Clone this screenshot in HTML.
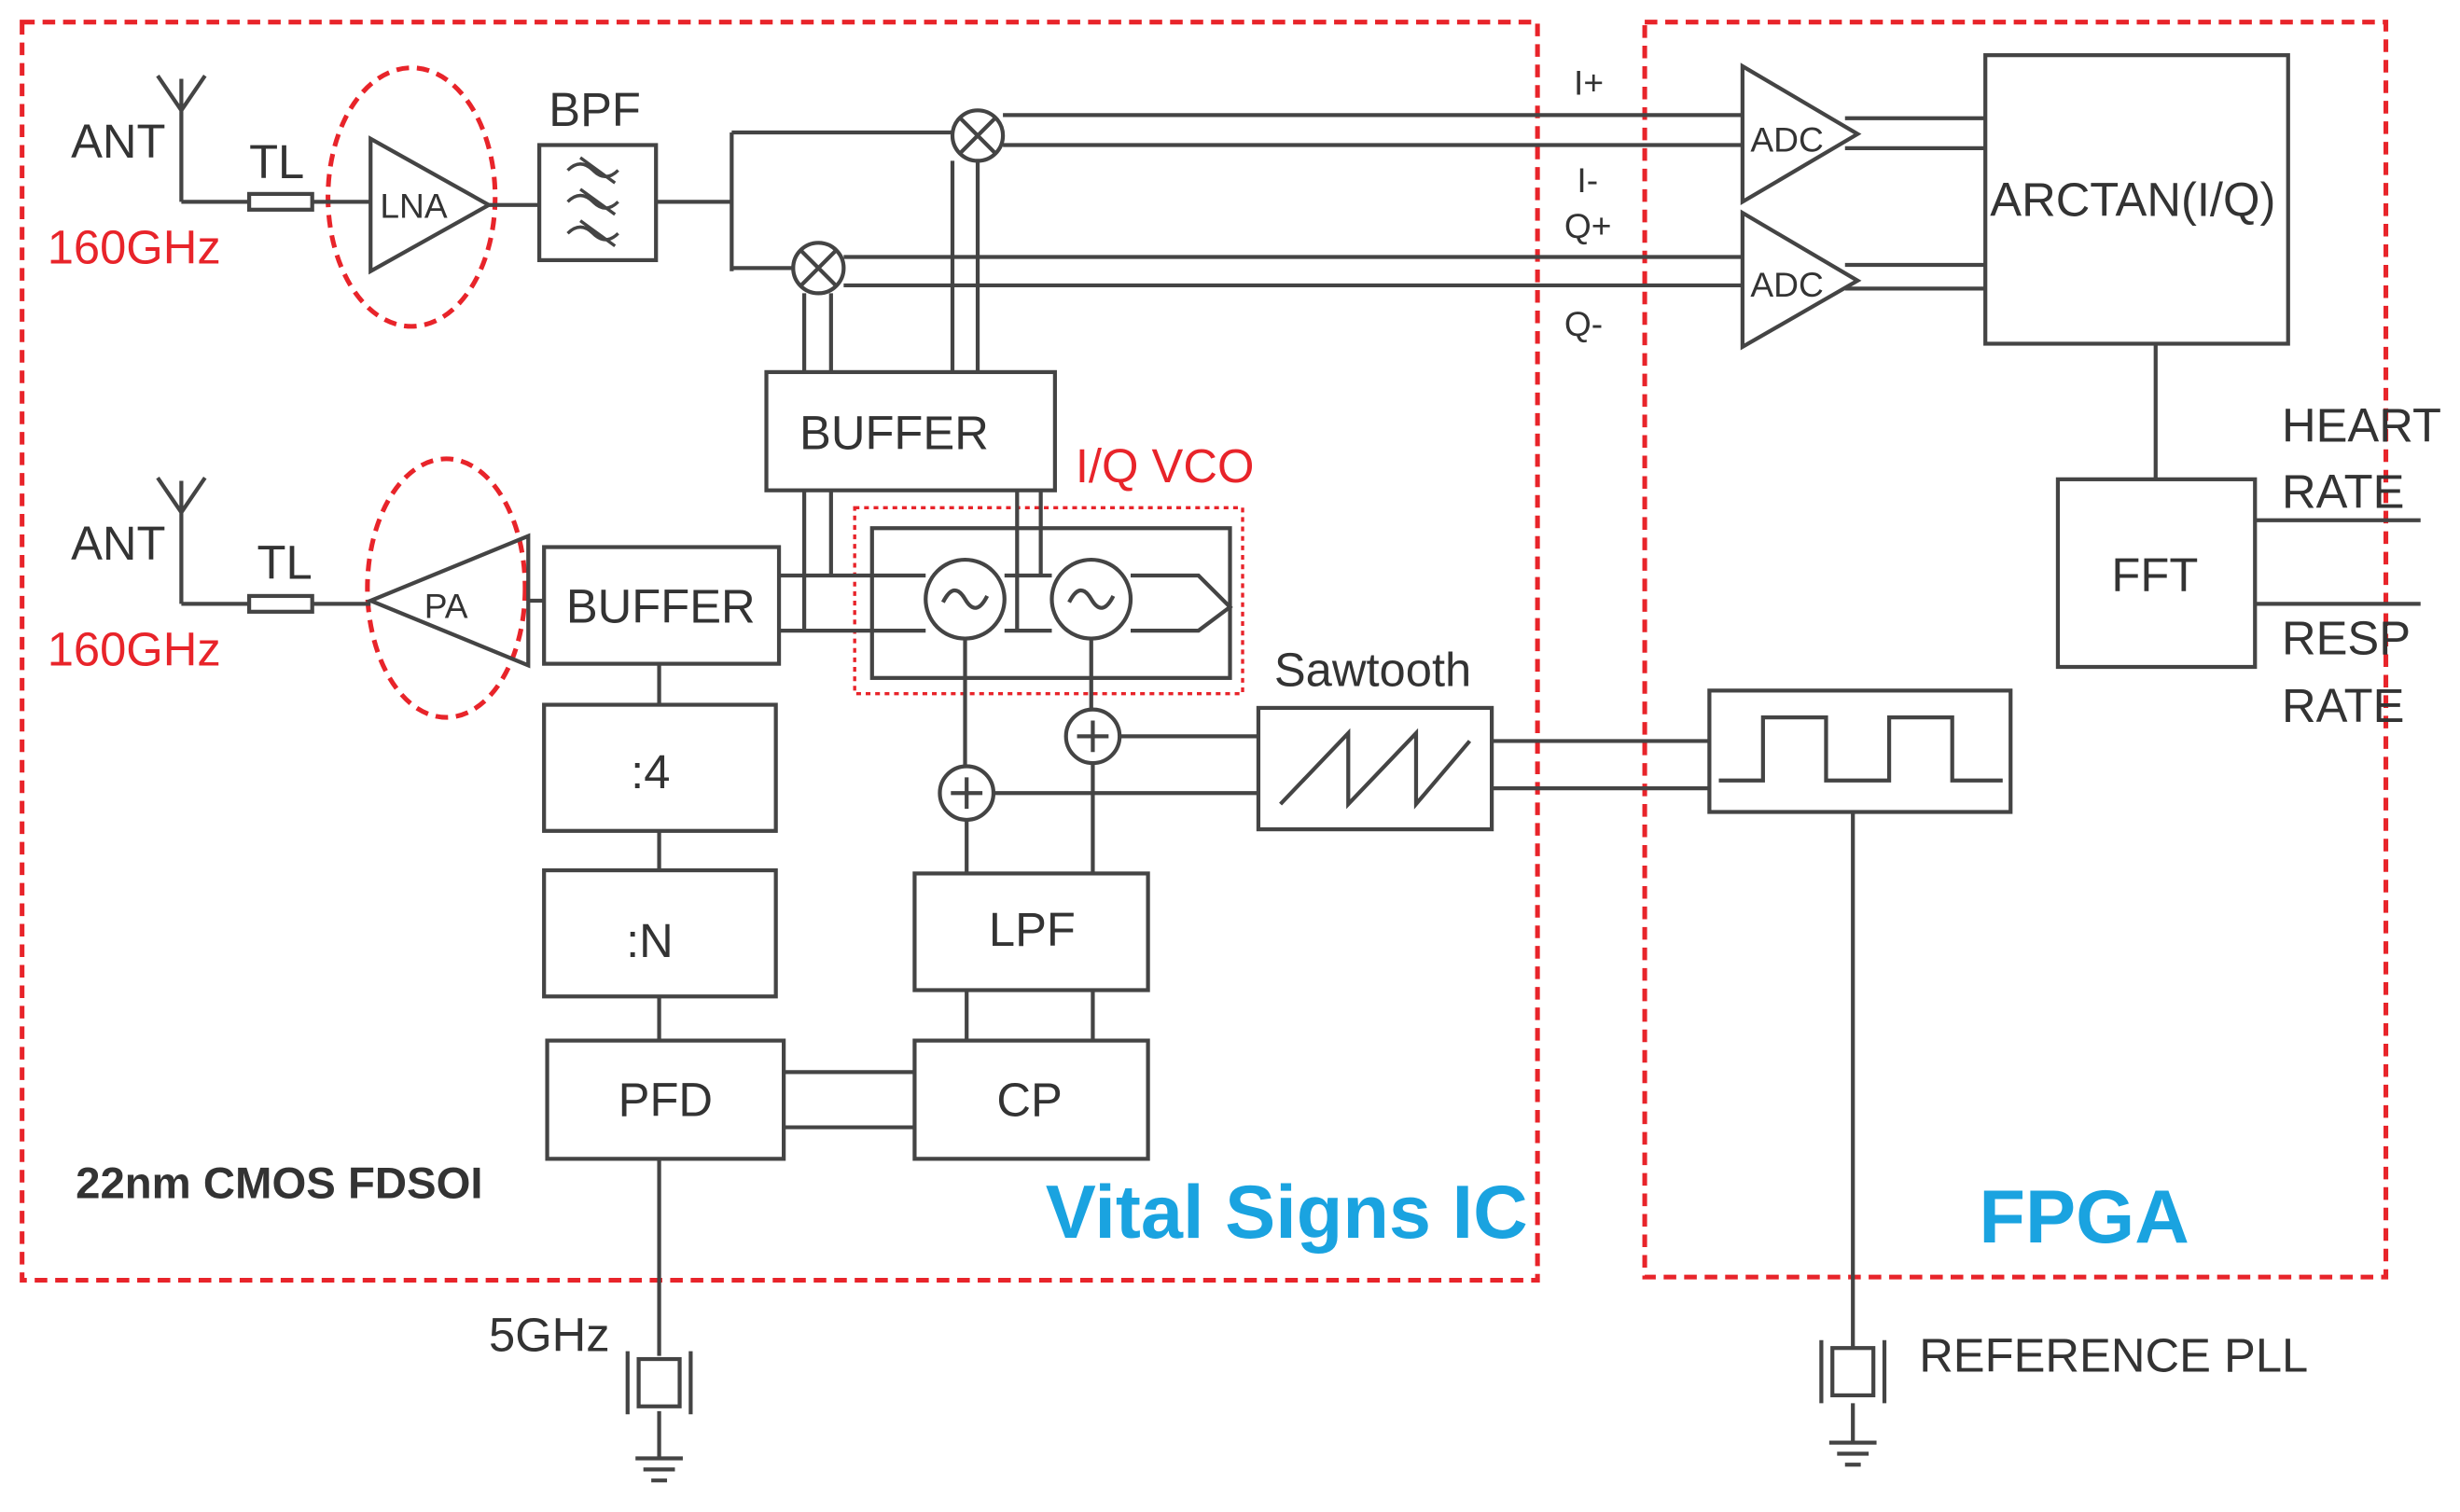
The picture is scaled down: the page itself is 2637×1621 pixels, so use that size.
<!DOCTYPE html>
<html><head><style>
html,body{margin:0;padding:0;background:#fff;}
svg{display:block}
text{font-family:"Liberation Sans",sans-serif;fill:#333;}
</style></head><body>
<svg width="2637" height="1621" viewBox="0 0 1560 959" preserveAspectRatio="none" xmlns="http://www.w3.org/2000/svg">
<g fill="none" stroke="#e8242a" stroke-width="3" stroke-dasharray="8,5">
<rect x="14" y="14" width="961" height="798"/>
<rect x="1043" y="14" width="470" height="796"/>
<ellipse cx="261" cy="125" rx="53" ry="82"/>
<ellipse cx="283" cy="373" rx="50" ry="82"/>
</g>
<rect x="542" y="322" width="246" height="118" fill="none" stroke="#e8242a" stroke-width="2" stroke-dasharray="3,3"/>
<g fill="none" stroke="#444" stroke-width="2.5">
<!-- antenna 1 -->
<path d="M115 128V50M100 48L115 70L130 48M115 128H158M198 128H235"/>
<rect x="158" y="123" width="40" height="10"/>
<path d="M235 88V172L310 130Z"/>
<path d="M310 130H342"/>
<rect x="342" y="92" width="74" height="73"/>
<path d="M416 128H464M464 84V172M464 84H604M464 170H503"/>
<circle cx="620" cy="86" r="16"/><path d="M609 75L631 97M631 75L609 97"/>
<circle cx="519" cy="170" r="16"/><path d="M508 159L530 181M530 159L508 181"/>
<path d="M636 73H1105M636 92H1105M535 163H1105M535 181H1105"/>
<path d="M1105 42V128L1178 85ZM1105 135V220L1178 178Z"/>
<path d="M1170 75H1259M1170 94H1259M1170 168H1259M1170 183H1259"/>
<rect x="1259" y="35" width="192" height="183"/>
<path d="M1367 218V304"/>
<rect x="1305" y="304" width="125" height="119"/>
<path d="M1430 330H1535M1430 383H1535"/>
<rect x="486" y="236" width="183" height="75"/>
<path d="M510 186V236M527 186V236M604 102V236M620 102V236"/>
<path d="M510 311V400M527 311V365M645 311V400M660 311V365"/>
<!-- antenna 2 -->
<path d="M115 383V305M100 303L115 325L130 303M115 383H158M198 383H235"/>
<rect x="158" y="378" width="40" height="10"/>
<path d="M335 340V422L235 381Z"/>
<path d="M335 381H345"/>
<rect x="345" y="347" width="149" height="74"/>
<path d="M494 365H587M494 400H587M637 365H667M637 400H667M717 365H760L780 385L760 400H717"/>
<rect x="553" y="335" width="227" height="95"/>
<circle cx="612" cy="380" r="25"/><circle cx="692" cy="380" r="25"/>
<path d="M598 382Q605 368 612 380T626 378M678 382Q685 368 692 380T706 378"/>
<path d="M418 421V447"/>
<rect x="345" y="447" width="147" height="80"/>
<path d="M418 527V552"/>
<rect x="345" y="552" width="147" height="80"/>
<path d="M418 632V660"/>
<rect x="347" y="660" width="150" height="75"/>
<rect x="580" y="660" width="148" height="75"/>
<rect x="580" y="554" width="148" height="74"/>
<path d="M497 680H580M497 715H580M613 628V660M693 628V660"/>
<path d="M612 405V486M613 520V554M692 405V450M693 484V554"/>
<circle cx="613" cy="503" r="17"/><path d="M603 503H623M613 493V513"/>
<circle cx="693" cy="467" r="17"/><path d="M683 467H703M693 457V477"/>
<path d="M710 467H798M630 503H798"/>
<rect x="798" y="449" width="148" height="77"/>
<path d="M812 510L855 465V510L898 465V510L932 470"/>
<path d="M946 470H1084M946 500H1084"/>
<rect x="1084" y="438" width="191" height="77"/>
<path d="M1090 495H1118V455H1158V495H1198V455H1238V495H1270"/>
<path d="M1175 515V855M1175 890V915M1160 915H1190M1165 922H1185M1170 929H1180"/>
<rect x="1162" y="855" width="26" height="30"/><path d="M1155 850V890M1195 850V890"/>
<path d="M418 735V860M418 895V925M403 925H433M408 932H428M413 939H423"/>
<rect x="405" y="862" width="26" height="30"/><path d="M398 857V897M438 857V897"/>
</g>
<g stroke="#444" stroke-width="2" fill="none">
<path d="M360 108q8-8 16 0t16 0M360 128q8-8 16 0t16 0M360 148q8-8 16 0t16 0M368 100l22 16M368 120l22 16M368 140l22 16"/>
</g>
<g font-size="30">
<text x="45" y="100">ANT</text><text x="158" y="113">TL</text>
<text x="45" y="355">ANT</text><text x="163" y="367">TL</text>
<text x="348" y="80">BPF</text>
<text x="507" y="285">BUFFER</text>
<text x="359" y="395">BUFFER</text>
<text x="400" y="500">:4</text>
<text x="397" y="607">:N</text>
<text x="392" y="708">PFD</text>
<text x="632" y="708">CP</text>
<text x="627" y="600">LPF</text>
<text x="808" y="435">Sawtooth</text>
<text x="1262" y="137">ARCTAN(I/Q)</text>
<text x="1339" y="375">FFT</text>
<text x="1447" y="280">HEART</text><text x="1447" y="322">RATE</text>
<text x="1447" y="415">RESP</text><text x="1447" y="458">RATE</text>
<text x="310" y="857">5GHz</text>
<text x="1217" y="870">REFERENCE PLL</text>
</g>
<g font-size="22"><text x="241" y="138">LNA</text><text x="269" y="392">PA</text>
<text x="1110" y="96">ADC</text><text x="1110" y="188">ADC</text>
<text x="998" y="60">I+</text><text x="1000" y="122">I-</text><text x="992" y="151">Q+</text><text x="992" y="213">Q-</text></g>
<g font-size="30" style="fill:#e8242a"><text x="30" y="167" style="fill:#e8242a">160GHz</text><text x="30" y="422" style="fill:#e8242a">160GHz</text><text x="682" y="306" style="fill:#e8242a">I/Q VCO</text></g>
<text x="48" y="760" font-size="28" font-weight="bold">22nm CMOS FDSOI</text>
<text x="663" y="785" font-size="48" font-weight="bold" style="fill:#1aa3e0">Vital Signs IC</text>
<text x="1255" y="788" font-size="48" font-weight="bold" style="fill:#1aa3e0">FPGA</text>
</svg>
</body></html>
